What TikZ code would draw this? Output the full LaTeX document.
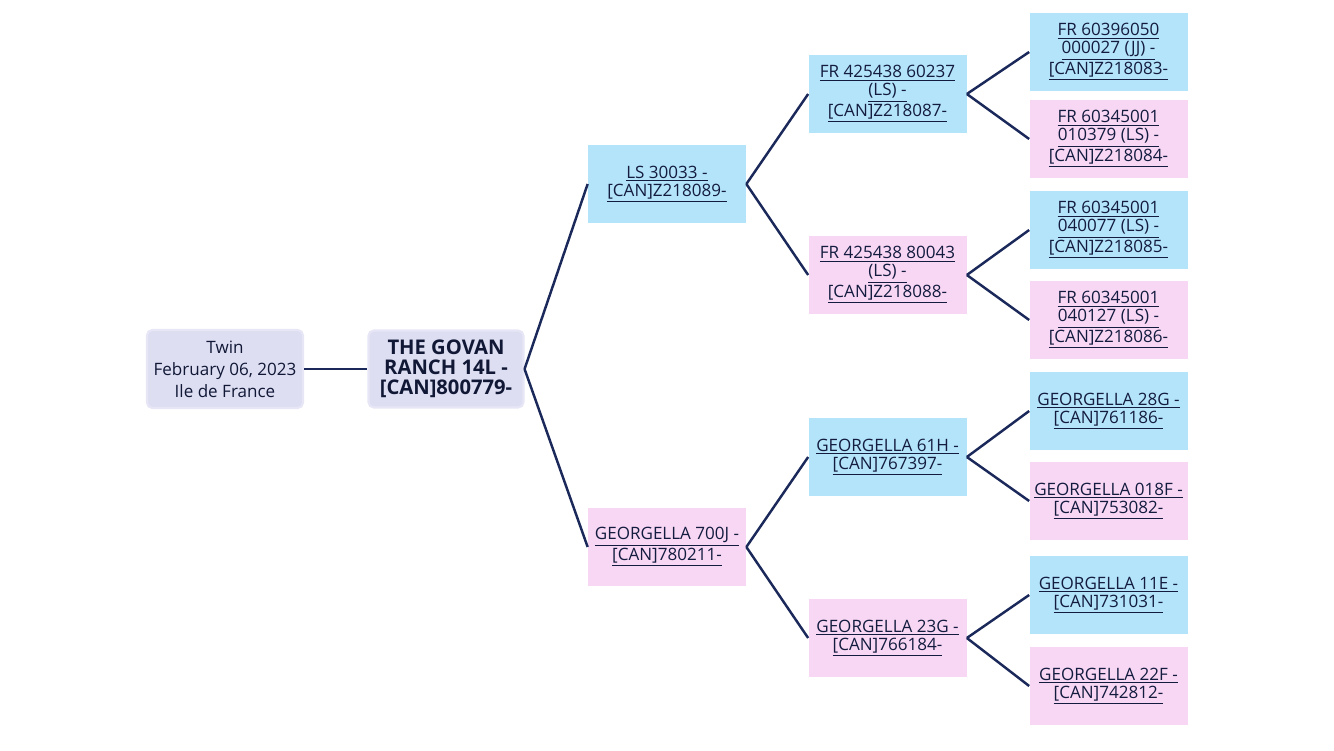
\documentclass[tikz,border=0pt]{standalone}
\usepackage{fontspec}
\setmainfont{Open Sans}
\definecolor{linkblue}{RGB}{27,40,90}
\definecolor{sireblue}{RGB}{180,228,250}
\definecolor{dampink}{RGB}{248,215,244}
\definecolor{rootlav}{RGB}{222,222,242}
\definecolor{rootedge}{RGB}{230,230,246}
\newcommand{\ul}[1]{\underline{#1}}
\begin{document}
\begin{tikzpicture}[
    animal/.style={rectangle, align=center, inner sep=0pt, minimum width=3.16cm, minimum height=1.56cm,
        text=linkblue!70!black, font=\fontsize{9.7}{10.3}\selectfont},
    sire/.style={animal, fill=sireblue},
    dam/.style={animal, fill=dampink},
    root/.style={rectangle, rounded corners=3pt, align=center, fill=rootlav, draw=rootedge, line width=1.2pt,
        text=linkblue!60!black},
    link/.style={linkblue, line width=1.4pt}
]
    \useasboundingbox (0,0) rectangle (26.68,15);

    % Birth record and the calf
    \node[root, minimum width=3.12cm, minimum height=1.56cm, font=\fontsize{9.7}{12.5}\selectfont] (twin) at (4.50,7.62) {Twin\\February 06, 2023\\Ile de France};
    \node[root, minimum width=3.10cm, minimum height=1.54cm, font=\bfseries\fontsize{11.5}{11.4}\selectfont] (calf) at (8.92,7.62) {THE GOVAN\\RANCH 14L -\\{[CAN]800779-}};

    % Parents
    \node[sire] (sire) at (13.34,11.32) {\ul{LS 30033 -}\\\ul{[CAN]Z218089-}};
    \node[dam] (dam) at (13.34,4.06) {\ul{GEORGELLA 700J -}\\\ul{[CAN]780211-}};

    % Grandparents
    \node[sire] (ss) at (17.75,13.12) {\ul{FR 425438 60237}\\\ul{(LS) -}\\\ul{[CAN]Z218087-}};
    \node[dam] (sd) at (17.75,9.50) {\ul{FR 425438 80043}\\\ul{(LS) -}\\\ul{[CAN]Z218088-}};
    \node[sire] (ds) at (17.75,5.86) {\ul{GEORGELLA 61H -}\\\ul{[CAN]767397-}};
    \node[dam] (dd) at (17.75,2.24) {\ul{GEORGELLA 23G -}\\\ul{[CAN]766184-}};

    % Great-grandparents
    \node[sire] (sss) at (22.17,13.96) {\ul{FR 60396050}\\\ul{000027 (JJ) -}\\\ul{[CAN]Z218083-}};
    \node[dam] (ssd) at (22.17,12.22) {\ul{FR 60345001}\\\ul{010379 (LS) -}\\\ul{[CAN]Z218084-}};
    \node[sire] (sds) at (22.17,10.40) {\ul{FR 60345001}\\\ul{040077 (LS) -}\\\ul{[CAN]Z218085-}};
    \node[dam] (sdd) at (22.17,8.60) {\ul{FR 60345001}\\\ul{040127 (LS) -}\\\ul{[CAN]Z218086-}};
    \node[sire] (dss) at (22.17,6.78) {\ul{GEORGELLA 28G -}\\\ul{[CAN]761186-}};
    \node[dam] (dsd) at (22.17,4.98) {\ul{GEORGELLA 018F -}\\\ul{[CAN]753082-}};
    \node[sire] (dds) at (22.17,3.10) {\ul{GEORGELLA 11E -}\\\ul{[CAN]731031-}};
    \node[dam] (ddd) at (22.17,1.28) {\ul{GEORGELLA 22F -}\\\ul{[CAN]742812-}};

    % Connections
    \draw[link] (twin) -- (calf);
    \draw[link] (calf.east) -- (sire.west);
    \draw[link] (calf.east) -- (dam.west);

    \draw[link] (sire.east) -- (ss.west);
    \draw[link] (sire.east) -- (sd.west);
    \draw[link] (dam.east) -- (ds.west);
    \draw[link] (dam.east) -- (dd.west);

    \draw[link] (ss.east) -- (sss.west);
    \draw[link] (ss.east) -- (ssd.west);
    \draw[link] (sd.east) -- (sds.west);
    \draw[link] (sd.east) -- (sdd.west);
    \draw[link] (ds.east) -- (dss.west);
    \draw[link] (ds.east) -- (dsd.west);
    \draw[link] (dd.east) -- (dds.west);
    \draw[link] (dd.east) -- (ddd.west);

\end{tikzpicture}
\end{document}
